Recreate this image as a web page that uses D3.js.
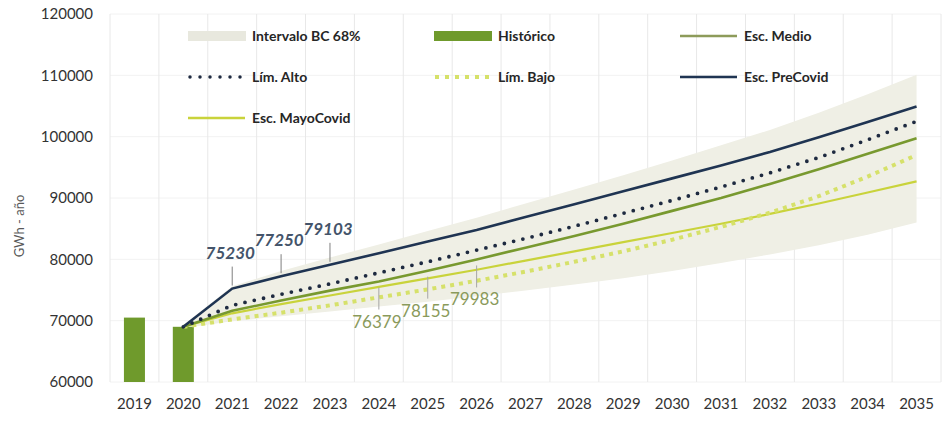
<!DOCTYPE html>
<meta charset="utf-8">
<script src="https://cdn.jsdelivr.net/npm/d3@7"></script>
<style>
body { margin: 0; background: #fff; }
text { font-family: Lato, "Liberation Sans", sans-serif; }
.tick text { fill: #333; font-size: 15px; }
.legend text { fill: #262626; font-size: 14px; font-weight: bold; }
</style>
<body>
<script>

// categories
var years = ["2019","2020","2021","2022","2023","2024","2025","2026","2027","2028","2029","2030","2031","2032","2033","2034","2035"];
var yTicks = [60000, 70000, 80000, 90000, 100000, 110000, 120000];

// historic bars
var histYears = ["2019","2020"];
var histValues = [70500, 69000];

// projections (2020 - 2035)
var projYears = years.slice(1);
var preCovid  = [69000, 75230, 77250, 79103, 81000, 82900, 84800, 86900, 89000, 91100, 93200, 95300, 97500, 99900, 102400, 104900];
var limAlto   = [69000, 72500, 74300, 76000, 77800, 79600, 81500, 83400, 85400, 87500, 89600, 91800, 94100, 96600, 99500, 102500];
var medio     = [69000, 71600, 73300, 74900, 76379, 78155, 79983, 81900, 83800, 85800, 87900, 90000, 92300, 94700, 97200, 99750];
var limBajo   = [69000, 70200, 71300, 72500, 73800, 75100, 76500, 78000, 79600, 81300, 83200, 85300, 87600, 90300, 93500, 97000];
var mayoCovid = [69000, 71200, 72700, 74100, 75500, 76900, 78300, 79800, 81300, 82800, 84300, 85800, 87400, 89100, 90900, 92700];
var bandHigh  = [69300, 75600, 78100, 80300, 82400, 84600, 86800, 89100, 91400, 93700, 96100, 98600, 101100, 103900, 106900, 110100];
var bandLow   = [68800, 69900, 70700, 71500, 72300, 73100, 74000, 74900, 75900, 76900, 78100, 79400, 80800, 82300, 84000, 86000];

// data labels
var blueLabelYears = ["2021","2022","2023"];
var blueLabelValues = [75230, 77250, 79103];
var greenLabelYears = ["2024","2025","2026"];
var greenLabelValues = [76379, 78155, 79983];

var width = 944, height = 421;
var plot = {left: 110, right: 941, top: 14, bottom: 382};

var svg = d3.select("body").append("svg")
    .attr("width", width)
    .attr("height", height);

var x = d3.scaleBand().domain(years).range([plot.left, plot.right]);
var y = d3.scaleLinear().domain([60000, 120000]).range([plot.bottom, plot.top]);
var cx = function(yr) { return x(yr) + x.bandwidth() / 2; };

// gridlines
svg.append("g").selectAll("line")
    .data(yTicks)
  .enter().append("line")
    .attr("x1", plot.left).attr("x2", plot.right)
    .attr("y1", function(d) { return y(d); }).attr("y2", function(d) { return y(d); })
    .style("stroke", "#f2f2f2");
svg.append("g").selectAll("line")
    .data(years.concat(["end"]))
  .enter().append("line")
    .attr("x1", function(d, i) { return plot.left + i * x.step(); })
    .attr("x2", function(d, i) { return plot.left + i * x.step(); })
    .attr("y1", plot.top).attr("y2", plot.bottom)
    .style("stroke", "#e8e8e8");

// interval band
var band = projYears.map(function(yr, i) { return {yr: yr, lo: bandLow[i], hi: bandHigh[i]}; });
svg.append("path")
    .datum(band)
    .attr("d", d3.area()
        .x(function(d) { return cx(d.yr); })
        .y0(function(d) { return y(d.lo); })
        .y1(function(d) { return y(d.hi); }))
    .style("fill", "#efefe5");

// historic bars
var barW = x.bandwidth() * 0.43;
svg.append("g").selectAll("rect")
    .data(histYears)
  .enter().append("rect")
    .attr("x", function(d) { return cx(d) - barW / 2; })
    .attr("width", barW)
    .attr("y", function(d, i) { return y(histValues[i]); })
    .attr("height", function(d, i) { return y(60000) - y(histValues[i]); })
    .style("fill", "#6f9a2c");

// lines
var line = d3.line()
    .x(function(d, i) { return cx(projYears[i]); })
    .y(function(d) { return y(d); });

var series = [
  {vals: mayoCovid, color: "#c9d33b", w: 2.2, dash: null},
  {vals: limBajo, color: "#d6e16a", w: 4, dash: "4,5", cap: "butt"},
  {vals: medio, color: "#78992f", w: 2.6, dash: null},
  {vals: limAlto, color: "#1e2a40", w: 3.8, dash: "0,9.5", cap: "round"},
  {vals: preCovid, color: "#1f3452", w: 2.6, dash: null}
];
series.forEach(function(s) {
  svg.append("path")
      .datum(s.vals)
      .attr("d", line)
      .style("fill", "none")
      .style("stroke", s.color)
      .style("stroke-width", s.w)
      .style("stroke-dasharray", s.dash)
      .style("stroke-linecap", s.cap || "butt");
});

// data labels with leader lines
blueLabelYears.forEach(function(yr, i) {
  var px = cx(yr), py = y(blueLabelValues[i]);
  svg.append("line")
      .attr("x1", px).attr("x2", px)
      .attr("y1", py - 3).attr("y2", py - 22)
      .style("stroke", "#7f7f7f").style("stroke-width", 1);
  svg.append("text")
      .attr("x", px - 2).attr("y", py - 30)
      .attr("text-anchor", "middle")
      .style("font-size", "17px").style("font-style", "italic").style("font-weight", "bold")
      .style("fill", "#44546a")
      .text(d3.format("d")(blueLabelValues[i]));
});
greenLabelYears.forEach(function(yr, i) {
  var px = cx(yr), py = y(greenLabelValues[i]);
  svg.append("line")
      .attr("x1", px).attr("x2", px)
      .attr("y1", py + 6).attr("y2", py + 28)
      .style("stroke", "#a6a6a6").style("stroke-width", 1);
  svg.append("text")
      .attr("x", px - 2).attr("y", py + 46)
      .attr("text-anchor", "middle")
      .style("font-size", "17px")
      .style("fill", "#8a9a5b")
      .text(d3.format("d")(greenLabelValues[i]));
});

// axes
svg.append("g")
    .attr("transform", "translate(0," + (plot.bottom + 10) + ")")
    .call(d3.axisBottom(x).tickSize(0).tickPadding(6))
    .call(function(g) { g.select(".domain").remove(); });
svg.append("g")
    .attr("transform", "translate(" + (plot.left - 17) + ",0)")
    .call(d3.axisLeft(y).tickValues(yTicks).tickSize(0).tickPadding(0).tickFormat(d3.format("d")))
    .call(function(g) { g.select(".domain").remove(); });

svg.append("text")
    .attr("transform", "translate(24," + 226 + ") rotate(-90)")
    .attr("text-anchor", "middle")
    .style("font-size", "13px").style("fill", "#595959")
    .text("GWh - año");

// legend
var legendItems = [
  {name: "Intervalo BC 68%", type: "band", color: "#e8e8de", col: 0, row: 0},
  {name: "Histórico", type: "bar", color: "#6f9a2c", col: 1, row: 0},
  {name: "Esc. Medio", type: "line", color: "#8d9b5a", col: 2, row: 0},
  {name: "Lím. Alto", type: "dot", color: "#1e2a40", col: 0, row: 1},
  {name: "Lím. Bajo", type: "sq", color: "#d6e16a", col: 1, row: 1},
  {name: "Esc. PreCovid", type: "line", color: "#1f3452", col: 2, row: 1},
  {name: "Esc. MayoCovid", type: "line", color: "#c9d33b", col: 0, row: 2}
];
var colX = [188, 434, 680], rowY = [36, 77, 118];
var lg = svg.append("g").attr("class", "legend");
legendItems.forEach(function(d) {
  var lx = colX[d.col], ly = rowY[d.row];
  if (d.type === "band" || d.type === "bar") {
    lg.append("rect").attr("x", lx).attr("y", ly - 5).attr("width", 58).attr("height", 10).style("fill", d.color);
  } else {
    var l = lg.append("line").attr("x1", lx).attr("x2", lx + 57).attr("y1", ly).attr("y2", ly)
        .style("stroke", d.color);
    if (d.type === "line") l.style("stroke-width", 2.5);
    if (d.type === "dot") l.style("stroke-width", 3.5).style("stroke-dasharray", "0,10").style("stroke-linecap", "round").attr("x1", lx + 2);
    if (d.type === "sq") l.style("stroke-width", 4).style("stroke-dasharray", "4,6").attr("x1", lx + 1);
  }
  lg.append("text").attr("x", lx + 64).attr("y", ly).attr("dy", "0.35em").text(d.name);
});

</script>
</body>
